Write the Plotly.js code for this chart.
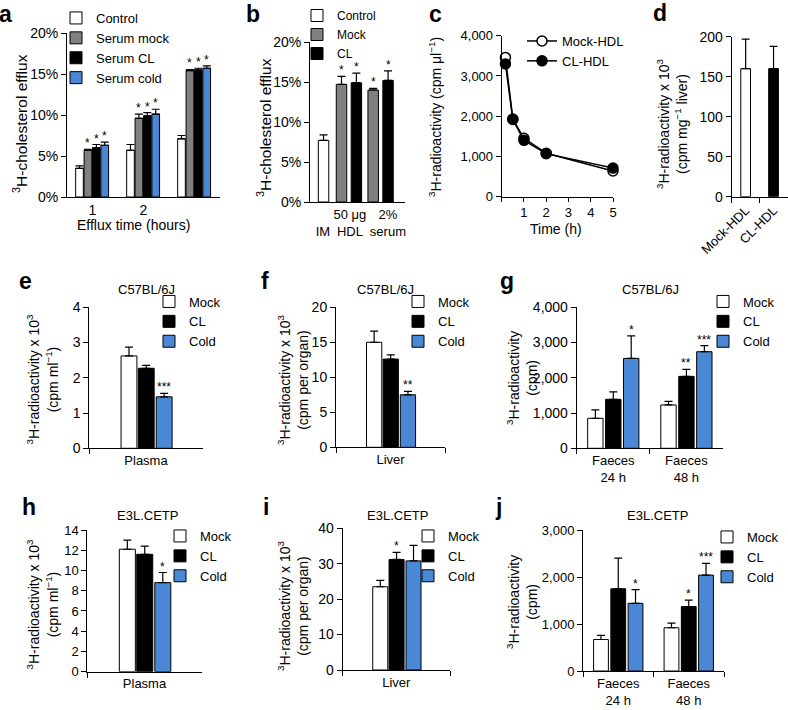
<!DOCTYPE html>
<html><head><meta charset="utf-8">
<script src="https://cdn.plot.ly/plotly-3.0.1.min.js"></script>
<style>html,body{margin:0;padding:0;background:#fff}#chart{width:788px;height:710px}</style>
</head><body><div id="chart"></div>
<script>
// ================= DATA =================
// a: 3H-cholesterol efflux (%) by efflux time
const aTickLabels = ['1', '2', ''];
const aYTicks = [0, 5, 10, 15, 20];
const aYTickText = ['0%', '5%', '10%', '15%', '20%'];
const aSeries = ['Control', 'Serum mock', 'Serum CL', 'Serum cold'];
const aControl = [3.5, 5.7, 7.1],   aControlErr = [0.3, 0.7, 0.4];
const aMock    = [5.7, 9.6, 15.4],  aMockErr    = [0.1, 0.5, 0.15];
const aCL      = [6.0, 9.9, 15.5],  aCLErr      = [0.4, 0.4, 0.2];
const aCold    = [6.3, 10.1, 15.7], aColdErr    = [0.4, 0.6, 0.3];
const aStarsControl = ['', '', ''], aStarsMock = ['*', '*', '*'], aStarsCL = ['*', '*', '*'], aStarsCold = ['*', '*', '*'];

// b: efflux with IM, 50 ug HDL, 2% serum
const bCats = ['IM', '50 μg HDL', '2% serum'];
const bTickText = [' <br>IM', '50 μg<br>HDL', '2%<br>serum'];
const bSeries = ['Control', 'Mock', 'CL'];
const bControl = [7.7, null, null],  bControlErr = [0.7, 0, 0];
const bMock    = [null, 14.7, 14.0], bMockErr    = [0, 1.0, 0.2];
const bCL      = [null, 14.9, 15.2], bCLErr      = [0, 1.2, 1.2];
const bStarsControl = ['', '', ''], bStarsMock = ['', '*', '*'], bStarsCL = ['', '*', '*'];

// c: plasma decay
const cTime = [0.167, 0.5, 1, 2, 5];
const cTickText = ['', '1', '2', '3', '4', '5'];
const cMock = [3460, 1930, 1450, 1080, 640];
const cCL   = [3300, 1920, 1400, 1070, 710];

// d: liver uptake
const dCats = ['Mock-HDL', 'CL-HDL'];
const dVals = [160, 160], dErr = [37, 28];

// e-j common series
const groupSeries = ['Mock', 'CL', 'Cold'];

// e: C57BL/6J plasma
const eCats = ['Plasma'];
const eMock = [2.62], eMockErr = [0.25];
const eCL   = [2.27], eCLErr   = [0.08];
const eCold = [1.46], eColdErr = [0.10];
const eStarsMock = [''], eStarsCL = [''], eStarsCold = ['***'];

// f: C57BL/6J liver
const fCats = ['Liver'];
const fMock = [15.0], fMockErr = [1.6];
const fCL   = [12.6], fCLErr   = [0.6];
const fCold = [7.5],  fColdErr = [0.5];
const fStarsMock = [''], fStarsCL = [''], fStarsCold = ['**'];

// g: C57BL/6J faeces
const gCats = ['Faeces<br>24 h', 'Faeces<br>48 h'];
const gMock = [850, 1230],  gMockErr = [240, 100];
const gCL   = [1390, 2040], gCLErr   = [210, 200];
const gCold = [2550, 2740], gColdErr = [640, 170];
const gStarsMock = ['', ''], gStarsCL = ['', '**'], gStarsCold = ['*', '***'];

// h: E3L.CETP plasma
const hCats = ['Plasma'];
const hMock = [12.1], hMockErr = [0.9];
const hCL   = [11.6], hCLErr   = [0.8];
const hCold = [8.8],  hColdErr = [1.0];
const hStarsMock = [''], hStarsCL = [''], hStarsCold = ['*'];

// i: E3L.CETP liver
const iCats = ['Liver'];
const iMock = [23.5], iMockErr = [1.8];
const iCL   = [31.2], iCLErr   = [2.0];
const iCold = [30.8], iColdErr = [4.4];
const iStarsMock = [''], iStarsCL = ['*'], iStarsCold = [''];

// j: E3L.CETP faeces
const jCats = ['Faeces<br>24 h', 'Faeces<br>48 h'];
const jMock = [670, 920],   jMockErr = [90, 100];
const jCL   = [1750, 1370], jCLErr   = [650, 140];
const jCold = [1440, 2040], jColdErr = [290, 250];
const jStarsMock = ['', ''], jStarsCL = ['', '*'], jStarsCold = ['*', '***'];

// ================= STYLE / LAYOUT =================
const FONT = 'Liberation Sans, Arial, Helvetica, sans-serif';
const W = 788, H = 710;
const fx = p => p / W, fy = p => 1 - p / H;
const C_WHITE = '#ffffff', C_GRAY = '#808080', C_BLACK = '#000000', C_BLUE = '#4a87d5';

const traces = [];
const ann = [];

function addBars(axn, xs, vals, errs, name, color, offset, width, legend, stars) {
  const s = axn === 1 ? '' : String(axn);
  traces.push({
    type: 'bar', x: xs, y: vals, name: name, xaxis: 'x' + s, yaxis: 'y' + s,
    offset: offset, width: width, legend: legend || 'legend', showlegend: !!legend,
    marker: {color: color, line: {color: '#000', width: 1}},
    error_y: {type: 'data', symmetric: false, array: errs, arrayminus: errs.map(() => 0),
              color: '#000', thickness: 1.2, width: 4},
    hoverinfo: 'skip'
  });
  if (stars) stars.forEach((st, i) => {
    if (!st || vals[i] == null) return;
    ann.push({xref: 'x' + s, yref: 'y' + s, x: i + offset + width / 2, y: vals[i] + errs[i],
      text: st, showarrow: false, xanchor: 'center', yanchor: 'bottom', yshift: -3,
      font: {family: FONT, size: 12, color: '#000'}});
  });
}

function base() {
  return {showline: true, linecolor: '#000', linewidth: 1, ticks: 'outside', ticklen: 5,
    tickwidth: 1, tickcolor: '#000', showgrid: false, zeroline: false, fixedrange: true,
    automargin: false, tickfont: {family: FONT, size: 14, color: '#000'}};
}
const tf13 = {family: FONT, size: 13, color: '#000'};
function xAx(l, r, anchor, extra) { return Object.assign(base(), {domain: [fx(l), fx(r)], anchor: anchor}, extra); }
function yAx(b, t, anchor, extra) { return Object.assign(base(), {domain: [fy(b), fy(t)], anchor: anchor}, extra); }
function leg(x, y, size) {
  return {x: fx(x), y: fy(y), xanchor: 'left', yanchor: 'top', bgcolor: 'rgba(0,0,0,0)', borderwidth: 0,
    font: {family: FONT, size: size || 13, color: '#000'}, itemwidth: 30, traceorder: 'normal'};
}

// ---- a ----
const aIdx = aTickLabels.map((_, i) => i);
const aW = 0.15, aOff = [-0.33, -0.165, 0, 0.165];
addBars(1, aIdx, aControl, aControlErr, aSeries[0], C_WHITE, aOff[0], aW, 'legend', aStarsControl);
addBars(1, aIdx, aMock, aMockErr, aSeries[1], C_GRAY, aOff[1], aW, 'legend', aStarsMock);
addBars(1, aIdx, aCL, aCLErr, aSeries[2], C_BLACK, aOff[2], aW, 'legend', aStarsCL);
addBars(1, aIdx, aCold, aColdErr, aSeries[3], C_BLUE, aOff[3], aW, 'legend', aStarsCold);

// ---- b ----
const bIdx = bCats.map((_, i) => i);
const bW = 0.33;
const bLabelPos = [-0.09, 0.76, 1.96];   // label placement (style)
addBars(2, bIdx, bControl, bControlErr, bSeries[0], C_WHITE, -0.237, bW, 'legend2', bStarsControl);
addBars(2, bIdx, bMock, bMockErr, bSeries[1], C_GRAY, -0.67, bW, 'legend2', bStarsMock);
addBars(2, bIdx, bCL, bCLErr, bSeries[2], C_BLACK, -0.2, bW, 'legend2', bStarsCL);

// ---- c ----
traces.push({type: 'scatter', mode: 'lines+markers', x: cTime, y: cMock, name: 'Mock-HDL',
  xaxis: 'x3', yaxis: 'y3', legend: 'legend3', cliponaxis: false,
  line: {color: '#000', width: 1.5},
  marker: {size: 10, color: '#fff', line: {color: '#000', width: 1.5}}, hoverinfo: 'skip'});
traces.push({type: 'scatter', mode: 'lines+markers', x: cTime, y: cCL, name: 'CL-HDL',
  xaxis: 'x3', yaxis: 'y3', legend: 'legend3', cliponaxis: false,
  line: {color: '#000', width: 1.5},
  marker: {size: 10, color: '#000', line: {color: '#000', width: 1.5}}, hoverinfo: 'skip'});

// ---- d ----
traces.push({type: 'bar', x: dCats, y: dVals, xaxis: 'x4', yaxis: 'y4', showlegend: false,
  offset: -0.175, width: 0.35,
  marker: {color: [C_WHITE, C_BLACK], line: {color: '#000', width: 1}},
  error_y: {type: 'data', symmetric: false, array: dErr, arrayminus: dErr.map(() => 0), color: '#000', thickness: 1.2, width: 4},
  hoverinfo: 'skip'});

// ---- e-j ----
const sW = 0.14, sOff = [-0.22, -0.068, 0.09];
const dW = 0.21, dOff = [-0.35, -0.105, 0.14];
function grp(axn, cats, m, me, c, ce, k, ke, sm, sc, sk, legend, W_, OFF) {
  addBars(axn, cats, m, me, groupSeries[0], C_WHITE, OFF[0], W_, legend, sm);
  addBars(axn, cats, c, ce, groupSeries[1], C_BLACK, OFF[1], W_, legend, sc);
  addBars(axn, cats, k, ke, groupSeries[2], C_BLUE, OFF[2], W_, legend, sk);
}
grp(5, eCats, eMock, eMockErr, eCL, eCLErr, eCold, eColdErr, eStarsMock, eStarsCL, eStarsCold, 'legend4', sW, sOff);
grp(6, fCats, fMock, fMockErr, fCL, fCLErr, fCold, fColdErr, fStarsMock, fStarsCL, fStarsCold, 'legend5', sW, sOff);
grp(7, gCats, gMock, gMockErr, gCL, gCLErr, gCold, gColdErr, gStarsMock, gStarsCL, gStarsCold, 'legend6', dW, dOff);
grp(8, hCats, hMock, hMockErr, hCL, hCLErr, hCold, hColdErr, hStarsMock, hStarsCL, hStarsCold, 'legend7', sW, sOff);
grp(9, iCats, iMock, iMockErr, iCL, iCLErr, iCold, iColdErr, iStarsMock, iStarsCL, iStarsCold, 'legend8', sW, sOff);
grp(10, jCats, jMock, jMockErr, jCL, jCLErr, jCold, jColdErr, jStarsMock, jStarsCL, jStarsCold, 'legend9', dW, dOff);

// ---- text annotations: panel letters, panel titles, axis titles ----
const letters = [['a', -3, 14], ['b', 244, 14], ['c', 427, 14], ['d', 651, 13], ['e', 17, 281],
  ['f', 259, 281], ['g', 498, 281], ['h', 20, 507], ['i', 261, 507], ['j', 493, 507]];
letters.forEach(([t, x, y]) => ann.push({xref: 'paper', yref: 'paper', x: fx(x), y: fy(y), text: '<b>' + t + '</b>',
  showarrow: false, xanchor: 'left', yanchor: 'middle', font: {family: FONT, size: 23, color: '#000'}}));
const panelTitles = [['C57BL/6J', 146, 289], ['C57BL/6J', 385, 289], ['C57BL/6J', 650, 289],
  ['E3L.CETP', 147, 515], ['E3L.CETP', 397, 515], ['E3L.CETP', 657, 515]];
panelTitles.forEach(([t, x, y]) => ann.push({xref: 'paper', yref: 'paper', x: fx(x), y: fy(y), text: t,
  showarrow: false, xanchor: 'center', yanchor: 'middle', font: {family: FONT, size: 13, color: '#000'}}));

const ytA = '<sup>3</sup>H-cholesterol efflux';
const ytC = '<sup>3</sup>H-radioactivity (cpm μl<sup>−1</sup>)';
const ytD = '<sup>3</sup>H-radioactivity x 10<sup>3</sup><br>(cpm mg<sup>−1</sup> liver)';
const ytE = '<sup>3</sup>H-radioactivity x 10<sup>3</sup><br>(cpm ml<sup>−1</sup>)';
const ytF = '<sup>3</sup>H-radioactivity x 10<sup>3</sup><br>(cpm per organ)';
const ytG = '<sup>3</sup>H-radioactivity<br>(cpm)';
const yTitles = [[ytA, 20, 124, 15.5], [ytA, 264, 128, 15.5], [ytC, 435, 117, 14], [ytD, 672, 124, 14],
  [ytE, 42.5, 379, 14], [ytF, 293, 380, 14], [ytG, 522, 378, 14],
  [ytE, 42.5, 604, 14], [ytF, 293, 606, 14], [ytG, 522, 602, 14]];
yTitles.forEach(([t, x, y, sz]) => ann.push({xref: 'paper', yref: 'paper', x: fx(x), y: fy(y), text: t,
  textangle: -90, showarrow: false, xanchor: 'center', yanchor: 'middle', align: 'center',
  font: {family: FONT, size: sz, color: '#000'}}));
const xTitles = [['Efflux time (hours)', 133, 225], ['Time (h)', 556, 229]];
xTitles.forEach(([t, x, y]) => ann.push({xref: 'paper', yref: 'paper', x: fx(x), y: fy(y), text: t,
  showarrow: false, xanchor: 'center', yanchor: 'middle', font: {family: FONT, size: 14, color: '#000'}}));

const layout = {
  width: W, height: H, margin: {l: 0, r: 0, t: 0, b: 0},
  paper_bgcolor: '#fff', plot_bgcolor: 'rgba(0,0,0,0)',
  font: {family: FONT, size: 14, color: '#000'},
  barmode: 'overlay', showlegend: true, annotations: ann,
  // a
  xaxis: xAx(67, 220, 'y', {range: [-0.5, 2.5], tickmode: 'array', tickvals: aIdx, ticktext: aTickLabels, ticks: ''}),
  yaxis: yAx(197, 33, 'x', {range: [0, 20], tickmode: 'array', tickvals: aYTicks, ticktext: aYTickText}),
  // b
  xaxis2: xAx(310, 405, 'y2', {range: [-0.5, 2.5], tickmode: 'array', tickvals: bLabelPos, ticktext: bTickText,
    ticks: '', tickangle: 0, tickfont: tf13}),
  yaxis2: yAx(202, 42, 'x2', {range: [0, 20], tickmode: 'array', tickvals: aYTicks, ticktext: aYTickText}),
  // c
  xaxis3: xAx(501.7, 613, 'y3', {range: [0, 5], tickmode: 'array', tickvals: [0, 1, 2, 3, 4, 5], ticktext: cTickText,
    ticklen: 4, tickfont: tf13}),
  yaxis3: yAx(196.7, 35.7, 'x3', {range: [0, 4000], tickvals: [0, 1000, 2000, 3000, 4000], tickformat: ',d', tickfont: tf13}),
  // d
  xaxis4: xAx(731.7, 787.5, 'y4', {type: 'category', range: [-0.5, 1.5], tickson: 'boundaries', tickangle: -45, tickfont: tf13}),
  yaxis4: yAx(196.7, 36.7, 'x4', {range: [0, 200], tickvals: [0, 50, 100, 150, 200]}),
  // e
  xaxis5: xAx(89.3, 202.7, 'y5', {type: 'category', range: [-0.5, 0.5], tickson: 'boundaries', tickfont: tf13}),
  yaxis5: yAx(448.3, 307.3, 'x5', {range: [0, 4], tickvals: [0, 1, 2, 3, 4]}),
  // f
  xaxis6: xAx(336, 445, 'y6', {type: 'category', range: [-0.5, 0.5], tickson: 'boundaries', tickfont: tf13}),
  yaxis6: yAx(447.3, 307.3, 'x6', {range: [0, 20], tickvals: [0, 5, 10, 15, 20]}),
  // g
  xaxis7: xAx(576.7, 723, 'y7', {type: 'category', range: [-0.5, 1.5], tickson: 'boundaries', tickfont: tf13}),
  yaxis7: yAx(448.3, 307.3, 'x7', {range: [0, 4000], tickvals: [0, 1000, 2000, 3000, 4000], tickformat: ',d'}),
  // h
  xaxis8: xAx(87.3, 201.7, 'y8', {type: 'category', range: [-0.5, 0.5], tickson: 'boundaries', tickfont: tf13}),
  yaxis8: yAx(671.7, 530, 'x8', {range: [0, 14], tickvals: [0, 2, 4, 6, 8, 10, 12, 14], tickfont: tf13}),
  // i
  xaxis9: xAx(342.7, 450, 'y9', {type: 'category', range: [-0.5, 0.5], tickson: 'boundaries', tickfont: tf13}),
  yaxis9: yAx(670, 528.3, 'x9', {range: [0, 40], tickvals: [0, 10, 20, 30, 40]}),
  // j
  xaxis10: xAx(583, 724, 'y10', {type: 'category', range: [-0.5, 1.5], tickson: 'boundaries', tickfont: tf13}),
  yaxis10: yAx(671, 530, 'x10', {range: [0, 3000], tickvals: [0, 1000, 2000, 3000], tickformat: ',d', tickfont: tf13}),
  legend: leg(56, 3), legend2: leg(297, 1, 12), legend3: leg(522, 26),
  legend4: leg(149, 286.5), legend5: leg(398, 286.5), legend6: leg(703, 286.5),
  legend7: leg(160, 521), legend8: leg(408, 521), legend9: leg(707, 522)
};

Plotly.newPlot('chart', traces, layout, {staticPlot: true, displayModeBar: false});
</script>
</body></html>
